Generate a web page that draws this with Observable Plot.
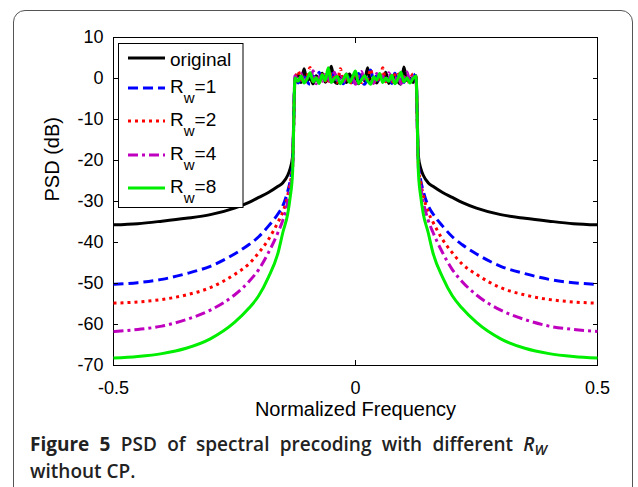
<!DOCTYPE html>
<html>
<head>
<meta charset="utf-8">
<script src="https://cdn.jsdelivr.net/npm/d3@7"></script>
<script src="https://cdn.jsdelivr.net/npm/@observablehq/plot@0.6"></script>
<style>
  html, body { margin: 0; padding: 0; background: #fff; }
  #wrap { position: relative; width: 638px; height: 487px; overflow: hidden; }
  #chart { position: absolute; left: 0; top: 0; }
  #border { position: absolute; left: 13px; top: 10px; width: 620px; height: 520px;
            border: 1.5px solid #555; border-radius: 12px; pointer-events: none; box-sizing: border-box; }
  #cap { position: absolute; left: 30px; top: 431px; width: 517px; font-family: "Open Sans", sans-serif;
         font-size: 19px; line-height: 27px; font-weight: 600; color: #222; text-align: justify; }
  #cap b { font-weight: 700; }
  #cap sub { font-size: 0.75em; line-height: 0; vertical-align: -0.25em; }
</style>
</head>
<body>
<div id="wrap">
  <div id="chart"></div>
  <div id="cap"><b>Figure 5</b> PSD of spectral precoding with different <i>R<sub>W</sub></i> without CP.</div>
  <div id="border"></div>
</div>
<script>
// ---- data ----
const seriesNames = ["original", "Rw=1", "Rw=2", "Rw=4", "Rw=8"];
const seriesColors = ["#000000", "#0000ff", "#ff0000", "#bf00bf", "#00ee00"];
const seriesDash = [null, "10,5", "3,4", "10,4,3,4", null];
const legendSub = [null, "1", "2", "4", "8"];

const xTicks = [-0.5, 0, 0.5];
const yTicks = [10, 0, -10, -20, -30, -40, -50, -60, -70];

// out-of-band frequencies (left side; right side is the mirror)
const freqOut = [-0.5, -0.45, -0.4, -0.35, -0.3, -0.25, -0.22, -0.2, -0.18, -0.16, -0.15, -0.14, -0.135, -0.13];
const outOriginal = [-35.7, -35.4, -34.8, -34.1, -33.2, -31.6, -30.2, -29.0, -27.8, -26.3, -25.4, -23.6, -22.0, -19.0];
const outRw1 = [-50.2, -49.8, -49.0, -47.6, -45.8, -42.8, -40.5, -38.6, -36.0, -33.0, -31.0, -27.5, -25.0, -21.0];
const outRw2 = [-54.8, -54.5, -53.9, -52.8, -51.0, -47.8, -45.2, -42.5, -39.3, -35.0, -32.5, -28.5, -25.5, -21.5];
const outRw4 = [-61.7, -61.2, -60.4, -58.8, -56.5, -52.8, -49.5, -46.6, -42.5, -37.5, -34.5, -30.0, -26.5, -22.0];
const outRw8 = [-68.2, -67.8, -67.1, -65.8, -63.5, -59.5, -56.0, -53.0, -48.5, -42.5, -37.5, -33.0, -29.0, -23.0];

// passband (noisy) values, 41 points from -0.125 to 0.125
const passOriginal = [-0.4, 0.9, -1.0, 2.4, -0.6, 0.1, -1.3, 0.7, -0.5, 1.3, -0.9, 0.3, 3.0, -0.7, -1.2, 0.6, -0.2, -1.0, 1.1, -0.4, 0.2, -1.3, 1.0, -0.6, 2.6, -0.9, 0.0, -1.1, 0.5, -0.3, 1.5, -1.2, -0.1, 0.4, -0.8, -1.4, 2.8, -0.5, 0.1, -1.0, 0.7];
const passRw1 = [0.3, -1.1, 0.0, 1.1, -0.8, -1.4, 0.6, -0.3, 1.5, -1.0, -0.1, 0.8, -0.9, 1.8, -0.5, 0.2, -1.3, 1.0, -0.2, -1.0, 0.4, 1.2, -0.7, -1.4, 0.1, 2.1, -0.4, 0.7, -1.1, 0.0, -0.6, 0.9, -1.2, 1.3, -0.3, 0.3, -1.0, 0.8, -0.8, 1.1, -0.1];
const passRw2 = [-0.6, 1.8, -0.1, -1.2, 0.5, 2.7, -0.7, 0.1, -1.1, 1.0, -0.3, -1.3, 1.4, 0.2, -0.9, 2.4, -0.5, 0.6, -1.4, 0.0, 1.2, -0.6, -1.0, 0.8, -0.2, 2.3, -1.2, 0.3, -0.4, 2.6, -0.8, 0.0, -1.3, 0.9, 1.6, -0.7, 0.4, -0.9, -0.2, 1.1, 0.2];
const passRw4 = [0.7, -0.5, 1.3, -1.0, 0.1, -0.4, 1.9, -1.3, 0.4, -0.7, 1.0, -0.1, -1.1, 1.5, -0.3, 0.5, -0.9, 1.1, -0.6, 0.2, -1.4, 0.8, 1.7, -0.8, 0.3, -0.5, -1.2, 1.2, 0.0, 0.6, -1.0, 1.4, -0.2, -0.8, 0.9, -1.3, 0.1, 1.6, -0.6, 0.5, -0.3];
const passRw8 = [0.1, -0.7, 0.6, -1.1, -0.1, 1.4, -0.8, 0.2, -1.2, 0.9, -0.5, 2.6, -1.0, 0.0, 0.5, -1.3, -0.2, 1.1, -0.9, 0.3, 1.8, -1.2, -0.3, 0.7, -0.6, -1.4, 0.4, -0.4, 1.2, -1.0, 0.1, -0.7, 0.8, -1.3, -0.1, 1.5, -0.8, 0.2, -1.1, 0.0, 0.6];

const passFreq = d3.range(41).map(i => -0.125 + i * 0.00625);

const outs = [outOriginal, outRw1, outRw2, outRw4, outRw8];
const passes = [passOriginal, passRw1, passRw2, passRw4, passRw8];

function build(name, out, pass) {
  const left = freqOut.map((f, i) => ({s: name, f, v: out[i]}));
  const mid = passFreq.map((f, i) => ({s: name, f, v: pass[i]}));
  const right = freqOut.map((f, i) => ({s: name, f: -f, v: out[i]})).reverse();
  return [...left, ...mid, ...right];
}
const data = seriesNames.map((n, k) => build(n, outs[k], passes[k]));

const font = "'Liberation Sans', Arial, Helvetica, sans-serif";

const lines = data.map((d, k) => Plot.line(d, {
  x: "f", y: "v", stroke: seriesColors[k], strokeWidth: 3, curve: "monotone-x",
  strokeDasharray: seriesDash[k] || undefined, strokeLinecap: "butt", strokeLinejoin: "round"
}));

const svg = Plot.plot({
  width: 638,
  height: 430,
  marginLeft: 113,
  marginRight: 41,
  marginTop: 37,
  marginBottom: 65,
  style: {fontFamily: font, fontSize: "18px", background: "transparent", color: "#000", overflow: "visible"},
  x: {domain: [-0.5, 0.5], label: null},
  y: {domain: [-70, 10], label: null},
  marks: [
    Plot.frame({stroke: "#000", strokeWidth: 1}),
    ...lines,
    Plot.axisX({anchor: "bottom", ticks: xTicks, tickSize: -5, tickPadding: 21, tickFormat: d => String(d), label: null, fontSize: 18}),
    Plot.axisX({anchor: "top", ticks: xTicks, tickSize: -5, tickFormat: () => "", label: null}),
    Plot.axisY({anchor: "left", ticks: yTicks, tickSize: -5, tickPadding: 15, tickFormat: d => String(d), label: null, fontSize: 18}),
    Plot.axisY({anchor: "right", ticks: yTicks, tickSize: -5, tickFormat: () => "", label: null}),
    Plot.text(["Normalized Frequency"], {text: d => d, frameAnchor: "bottom", dy: 50, fontSize: 20, fill: "#000"}),
    Plot.text(["PSD (dB)"], {text: d => d, frameAnchor: "left", dx: -61, rotate: -90, fontSize: 20, fill: "#000"})
  ]
});

// legend
const lg = d3.select(svg).append("g").attr("font-family", font).attr("text-anchor", "start");
lg.append("rect").attr("x", 118.5).attr("y", 43.5).attr("width", 124.5).attr("height", 164)
  .attr("fill", "#fff").attr("stroke", "#000").attr("stroke-width", 1);
const rowY = [58, 88, 121, 155, 188];
seriesNames.forEach((n, k) => {
  const y = rowY[k];
  const ln = lg.append("line").attr("x1", 128).attr("x2", 165).attr("y1", y).attr("y2", y)
    .attr("stroke", seriesColors[k]).attr("stroke-width", 3);
  if (seriesDash[k]) ln.attr("stroke-dasharray", seriesDash[k]);
  const t = lg.append("text").attr("x", 170).attr("font-size", 19).attr("fill", "#000").attr("text-anchor", "start");
  if (legendSub[k] === null) {
    t.attr("y", 66).text(n);
  } else {
    t.attr("y", y + 5);
    t.append("tspan").text("R");
    t.append("tspan").attr("font-size", 15).attr("dy", 10).text("w");
    t.append("tspan").attr("dy", -10).text("=" + legendSub[k]);
  }
});

document.getElementById("chart").appendChild(svg);
</script>
</body>
</html>
